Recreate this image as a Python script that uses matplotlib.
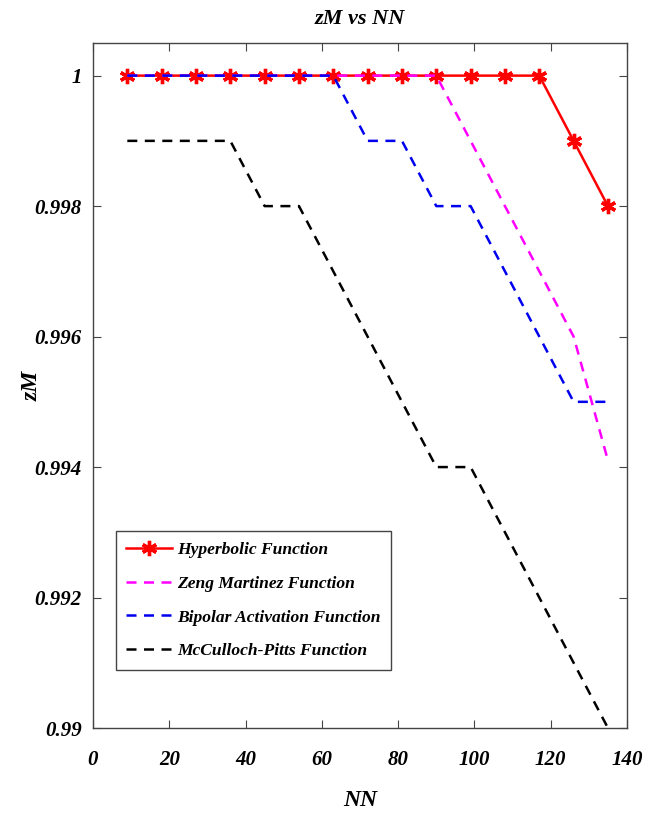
import matplotlib.pyplot as plt

nn = [9, 18, 27, 36, 45, 54, 63, 72, 81, 90, 99, 108, 117, 126, 135]

hyperbolic = [1, 1, 1, 1, 1, 1, 1, 1, 1, 1, 1, 1, 1, 0.999, 0.998]
zeng = [1, 1, 1, 1, 1, 1, 1, 1, 1, 1, 0.999, 0.998, 0.997, 0.996, 0.9941]
bipolar = [1, 1, 1, 1, 1, 1, 1, 0.999, 0.999, 0.998, 0.998, 0.997, 0.996, 0.995, 0.995]
mcculloch = [0.999, 0.999, 0.999, 0.999, 0.998, 0.998, 0.997, 0.996, 0.995,
             0.994, 0.994, 0.993, 0.992, 0.991, 0.990]

labels = ["Hyperbolic Function", "Zeng Martinez Function",
          "Bipolar Activation Function", "McCulloch-Pitts Function"]
xticks = [0, 20, 40, 60, 80, 100, 120, 140]
yticks = [0.99, 0.992, 0.994, 0.996, 0.998, 1.0]
ytick_labels = ["0.99", "0.992", "0.994", "0.996", "0.998", "1"]

plt.rcParams["font.family"] = ["Liberation Serif", "DejaVu Serif"]
plt.rcParams["font.weight"] = "bold"
plt.rcParams["font.style"] = "italic"

fig = plt.figure(figsize=(6.52, 8.16), dpi=100)
ax = fig.add_axes([0.1426, 0.1078, 0.8191, 0.8395])

dash = (0, (4, 3))
ax.plot(nn, hyperbolic, color="red", lw=1.8, marker=(6, 2, 0),
        markersize=11, markeredgewidth=2.4, label=labels[0])
ax.plot(nn, zeng, color="#ff00ff", lw=1.8, linestyle=dash, label=labels[1])
ax.plot(nn, bipolar, color="#0000ee", lw=1.8, linestyle=dash, label=labels[2])
ax.plot(nn, mcculloch, color="black", lw=1.8, linestyle=dash, label=labels[3])

ax.set_xlim(0, 140)
ax.set_ylim(0.99, 1.0005)
ax.set_xticks(xticks)
ax.set_yticks(yticks)
ax.set_yticklabels(ytick_labels)
ax.tick_params(direction="in", length=6, width=0.8, top=True, right=True,
               labelsize=15, color="#444444")
ax.tick_params(axis="x", pad=16)
ax.tick_params(axis="y", pad=8)
for s in ax.spines.values():
    s.set_color("#444444")
    s.set_linewidth(1.0)

ax.set_title("zM vs NN", fontsize=16, fontweight="bold", style="italic", pad=14)
ax.set_xlabel("NN", fontsize=17, fontweight="bold", style="italic", labelpad=14)
ax.set_ylabel("zM", fontsize=17, fontweight="bold", style="italic", labelpad=-6)

leg = ax.legend(loc="lower left", bbox_to_anchor=(0.043, 0.085), borderaxespad=0,
                fontsize=12.6, handlelength=2.6, handletextpad=0.3, labelspacing=1.0,
                borderpad=0.6, fancybox=False, framealpha=1, edgecolor="#444444")
leg.get_frame().set_linewidth(1.0)

fig.savefig("out.png", dpi=100)
